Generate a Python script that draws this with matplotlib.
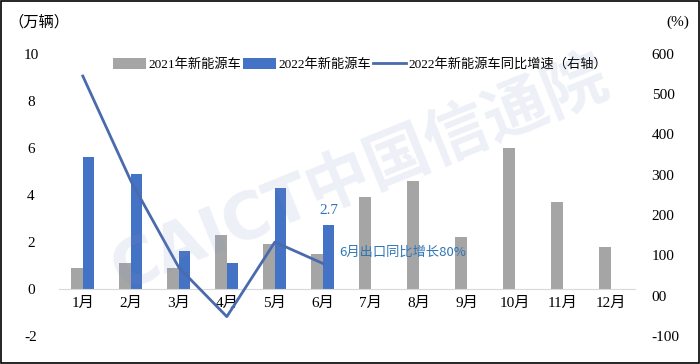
import matplotlib
matplotlib.use("Agg")
import matplotlib.pyplot as plt
import numpy as np
from matplotlib.patches import Rectangle

plt.rcParams['font.family'] = ['Liberation Serif', 'Noto Sans CJK SC', 'DejaVu Sans']

months = ['1月', '2月', '3月', '4月', '5月', '6月', '7月', '8月', '9月', '10月', '11月', '12月']
sales_2021 = [0.9, 1.1, 0.9, 2.3, 1.9, 1.5, 3.9, 4.6, 2.2, 6.0, 3.7, 1.8]
sales_2022 = [5.6, 4.9, 1.6, 1.1, 4.3, 2.7]
growth_2022 = [545, 285, 70, -52, 133, 80]
left_ticks = [-2, 0, 2, 4, 6, 8, 10]
right_ticks = [-100, 0, 100, 200, 300, 400, 500, 600]
right_tick_labels = ['-100', '00', '100', '200', '300', '400', '500', '600']
series_names = ['2021年新能源车', '2022年新能源车', '2022年新能源车同比增速（右轴）']

c_gray = '#A5A5A5'
c_blue = '#4472C4'
c_line = '#4A6AAE'
c_note = '#2E75B6'

fig = plt.figure(figsize=(7, 3.64), dpi=100)
ax = fig.add_axes([0.084, 0.077, 0.823, 0.775])
ax2 = ax.twinx()

x = np.arange(len(months))
w = 0.24
b1 = ax.bar(x - w / 2, sales_2021, w, color=c_gray, zorder=2, label=series_names[0])
x22 = np.arange(len(sales_2022))
b2 = ax.bar(x22 + w / 2, sales_2022, w, color=c_blue, zorder=2, label=series_names[1])
ln, = ax2.plot(x22, growth_2022, color=c_line, lw=2.0, label=series_names[2], zorder=3)

ax.set_xlim(-0.5, len(months) - 0.5)
ax.set_ylim(-2, 10)
ax2.set_ylim(-100, 600)
ax.set_yticks(left_ticks)
ax.set_yticklabels([str(v) for v in left_ticks])
ax2.set_yticks(right_ticks)
ax2.set_yticklabels(right_tick_labels)
ax.set_xticks(x)
ax.set_xticklabels(months)

for a in (ax, ax2):
    for s in ['top', 'left', 'right']:
        a.spines[s].set_visible(False)
ax2.spines['bottom'].set_visible(False)
ax.spines['bottom'].set_position(('data', 0))
ax.spines['bottom'].set_color('#D9D9D9')
ax.tick_params(axis='x', length=0, pad=6, labelsize=11)
ax.tick_params(axis='y', length=0, labelsize=11)
for lab in ax.get_yticklabels():
    lab.set_horizontalalignment('center')
ax.tick_params(axis='y', pad=20)
ax2.tick_params(axis='y', length=0, pad=12, labelsize=11)

# watermark
fig.text(0.515, 0.52, 'CAICT中国信通院', fontsize=46, color='#7F93C4', alpha=0.14,
         rotation=22, ha='center', va='center', fontweight='bold',
         family=['DejaVu Sans', 'Noto Sans CJK SC'], zorder=0)

ax.text(5 + w / 2, 2.7 + 0.35, '2.7', color=c_note, fontsize=11, ha='center', va='bottom')
ax.text(5.35, 1.55, '6月出口同比增长80%', color=c_note, fontsize=9.5, ha='left', va='center',
        family=['Noto Sans CJK SC', 'DejaVu Sans'])

fig.text(0.012, 0.94, '（万辆）', fontsize=11, ha='left', va='center')
fig.text(0.985, 0.94, '(%)', fontsize=11, ha='right', va='center')

ax.legend([b1, b2, ln], series_names, loc='center', bbox_to_anchor=(0.523, 0.962),
          ncol=3, frameon=False, fontsize=9.5, handlelength=2.5, handletextpad=0.2,
          columnspacing=0.1, handleheight=0.9)

fig.add_artist(Rectangle((0.001, 0.002), 0.997, 0.995, transform=fig.transFigure,
                         fill=False, edgecolor='black', lw=1.2))

fig.savefig('out.png', dpi=100)
